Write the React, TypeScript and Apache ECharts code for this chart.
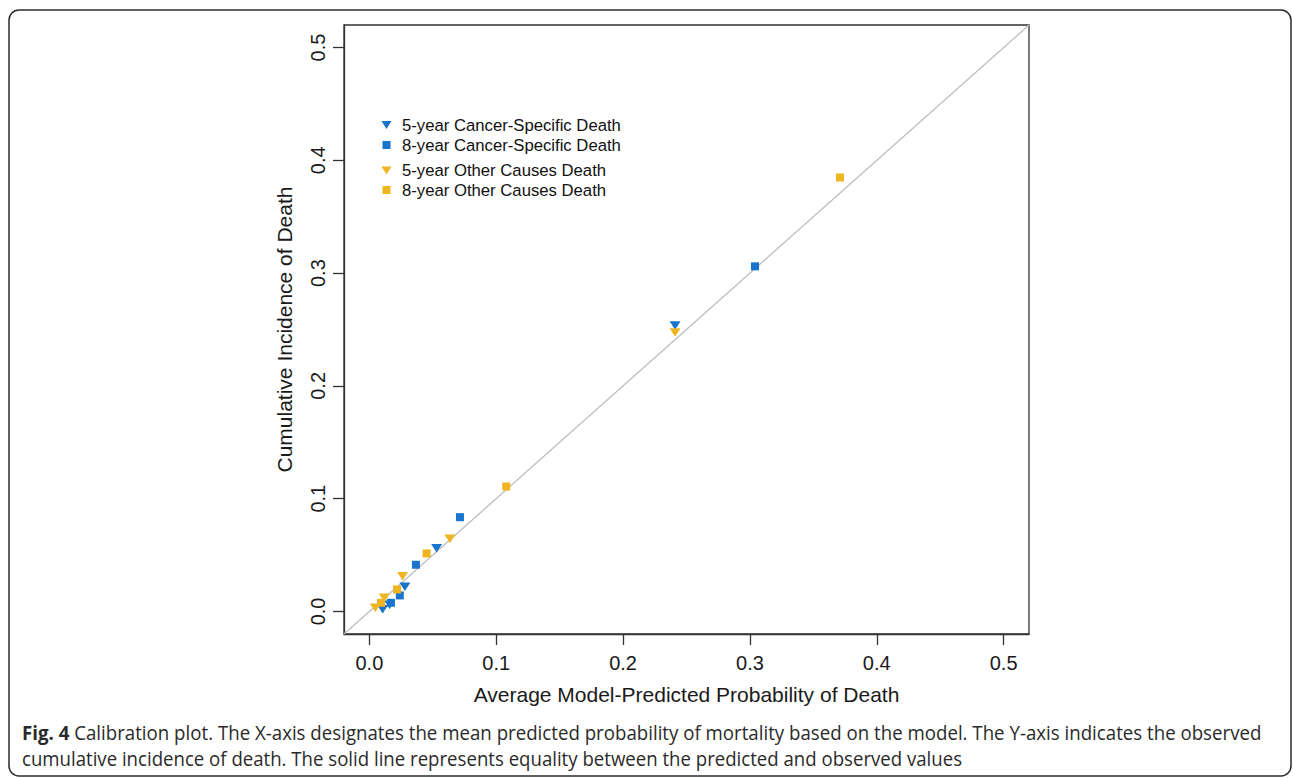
import React, { useEffect, useRef } from "react";
import * as echarts from "echarts";

// ---- data ----
const tickValues = [0, 0.1, 0.2, 0.3, 0.4, 0.5];
const seriesNames = [
  "5-year Cancer-Specific Death",
  "8-year Cancer-Specific Death",
  "5-year Other Causes Death",
  "8-year Other Causes Death",
];
const cs5Pred = [0.0105, 0.016, 0.028, 0.053, 0.241];
const cs5Obs = [0.002, 0.006, 0.022, 0.056, 0.2535];
const cs8Pred = [0.017, 0.024, 0.0367, 0.0714, 0.304];
const cs8Obs = [0.0077, 0.0142, 0.0414, 0.0836, 0.306];
const oc5Pred = [0.0047, 0.0118, 0.0262, 0.0635, 0.241];
const oc5Obs = [0.0033, 0.0121, 0.0313, 0.0644, 0.2473];
const oc8Pred = [0.0092, 0.0218, 0.0451, 0.1079, 0.371];
const oc8Obs = [0.0077, 0.0195, 0.0514, 0.1108, 0.3848];
const identityLine = [-0.02, 0.52];

const captionBold = "Fig. 4";
const captionLine1 =
  " Calibration plot. The X-axis designates the mean predicted probability of mortality based on the model. The Y-axis indicates the observed";
const captionLine2 =
  "cumulative incidence of death. The solid line represents equality between the predicted and observed values";

const BLUE = "#1874CD";
const GOLD = "#EEB422";
const TRI = "path://M0,0L10,0L5,8Z";
const SQR = "path://M0,0L10,0L10,10L0,10Z";
const AXIS_FONT = "'Liberation Sans', Arial, sans-serif";
const CAP_FONT = "'Open Sans', sans-serif";

function zip(a: number[], b: number[]) {
  return a.map((v, i) => [v, b[i]]);
}

function measure(text: string, font: string) {
  const ctx = document.createElement("canvas").getContext("2d")!;
  ctx.font = font;
  return ctx.measureText(text).width;
}

export default function App() {
  const ref = useRef<HTMLDivElement>(null);
  useEffect(() => {
    const chart = echarts.init(ref.current!, undefined, { renderer: "svg" });
    const capSize = 20;
    const w1 =
      measure(captionBold, `bold ${capSize}px 'Open Sans'`) +
      measure(captionLine1, `${capSize}px 'Open Sans'`);
    const w2 = measure(captionLine2, `${capSize}px 'Open Sans'`);
    const s1 = 1240 / w1;
    const s2 = 941 / w2;

    const axisCommon = {
      type: "value" as const,
      min: -0.02,
      max: 0.52,
      splitLine: { show: false },
      axisLine: { show: true, onZero: false, lineStyle: { color: "#333", width: 1.3 } },
      axisTick: {
        show: true,
        customValues: tickValues,
        length: 11,
        lineStyle: { color: "#333", width: 1.3 },
      },
      nameLocation: "middle" as const,
      nameTextStyle: { fontSize: 21, color: "#1a1a1a", fontFamily: AXIS_FONT },
    };

    const legendCommon = {
      orient: "vertical" as const,
      left: 381.5,
      padding: 0,
      itemWidth: 21,
      itemHeight: 8,
      textStyle: { fontSize: 16.7, color: "#111", fontFamily: AXIS_FONT },
    };

    chart.setOption({
      animation: false,
      backgroundColor: "#fff",
      grid: {
        left: 344,
        top: 25,
        width: 685,
        height: 609,
        show: true,
        borderColor: "#333",
        borderWidth: 1.3,
        outerBoundsMode: "none",
        containLabel: false,
      },
      xAxis: {
        ...axisCommon,
        name: "Average Model-Predicted Probability of Death",
        nameGap: 50,
        axisLabel: {
          customValues: tickValues,
          formatter: (v: number) => v.toFixed(1),
          fontSize: 20,
          color: "#1a1a1a",
          fontFamily: AXIS_FONT,
          margin: 19,
        },
      },
      yAxis: {
        ...axisCommon,
        name: "Cumulative Incidence of Death",
        nameGap: 49,
        axisLabel: {
          customValues: tickValues,
          formatter: (v: number) => v.toFixed(1),
          fontSize: 20,
          color: "#1a1a1a",
          fontFamily: AXIS_FONT,
          rotate: 90,
          margin: 16,
        },
      },
      legend: [
        {
          ...legendCommon,
          data: [seriesNames[0], seriesNames[1]],
          top: 116.5,
          itemGap: 3,
        },
        {
          ...legendCommon,
          data: [seriesNames[2], seriesNames[3]],
          top: 162,
          itemGap: 2.5,
        },
      ],
      series: [
        {
          type: "line",
          data: [
            [identityLine[0], identityLine[0]],
            [identityLine[1], identityLine[1]],
          ],
          symbol: "none",
          lineStyle: { color: "#BEBEBE", width: 1.3 },
          silent: true,
          z: 1,
        },
        {
          name: seriesNames[0],
          type: "scatter",
          data: zip(cs5Pred, cs5Obs),
          symbol: TRI,
          symbolSize: [11, 8.5],
          itemStyle: { color: BLUE, opacity: 1 },
          z: 2,
        },
        {
          name: seriesNames[1],
          type: "scatter",
          data: zip(cs8Pred, cs8Obs),
          symbol: SQR,
          symbolSize: 8,
          itemStyle: { color: BLUE, opacity: 1 },
          z: 2,
        },
        {
          name: seriesNames[2],
          type: "scatter",
          data: zip(oc5Pred, oc5Obs),
          symbol: TRI,
          symbolSize: [11, 8.5],
          itemStyle: { color: GOLD, opacity: 1 },
          z: 2,
        },
        {
          name: seriesNames[3],
          type: "scatter",
          data: zip(oc8Pred, oc8Obs),
          symbol: SQR,
          symbolSize: 8,
          itemStyle: { color: GOLD, opacity: 1 },
          z: 2,
        },
      ],
      graphic: [
        {
          type: "rect",
          shape: { x: 9, y: 10, width: 1282, height: 766, r: 10 },
          style: { fill: "none", stroke: "#2b2b2b", lineWidth: 1.5 },
          silent: true,
        },
        {
          type: "text",
          x: 22,
          y: 732,
          scaleX: s1,
          style: {
            text: `{b|${captionBold}}${captionLine1}`,
            fontSize: capSize,
            fontFamily: CAP_FONT,
            fill: "#2a2a2a",
            verticalAlign: "middle",
            rich: {
              b: { fontWeight: "bold", fontSize: capSize, fontFamily: CAP_FONT, fill: "#2a2a2a" },
            },
          },
        },
        {
          type: "text",
          x: 22,
          y: 758,
          scaleX: s2,
          style: {
            text: captionLine2,
            fontSize: capSize,
            fontFamily: CAP_FONT,
            fill: "#2a2a2a",
            verticalAlign: "middle",
          },
        },
      ],
    });
    return () => chart.dispose();
  }, []);
  return (
    <div
      ref={ref}
      style={{ position: "fixed", left: 0, top: 0, width: 1293, height: 778 }}
    />
  );
}
